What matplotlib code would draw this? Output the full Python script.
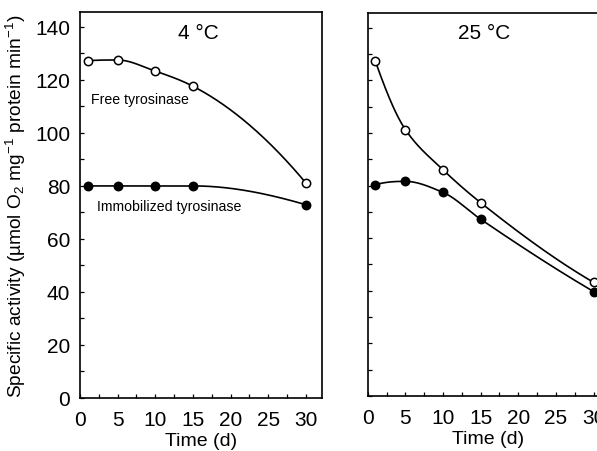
import numpy as np
import matplotlib
matplotlib.use("Agg")
import matplotlib.pyplot as plt
from matplotlib.ticker import MultipleLocator

plt.rcParams['font.family'] = ['Liberation Sans', 'DejaVu Sans']
plt.rcParams['mathtext.fontset'] = 'custom'
plt.rcParams['mathtext.rm'] = 'Liberation Sans'
plt.rcParams['mathtext.it'] = 'Liberation Sans:italic'

# Data
days = [1, 5, 10, 15, 30]
free_4C = [127.2, 127.5, 123.3, 117.6, 81.1]
immob_4C = [80.0, 80.0, 80.0, 80.0, 72.9]
free_25C = [127.4, 101.3, 86.0, 73.5, 43.2]
immob_25C = [80.3, 81.6, 77.4, 67.2, 39.7]
panel_titles = ["4 °C", "25 °C"]
x_ticks = [0, 5, 10, 15, 20, 25, 30]
y_ticks = [0, 20, 40, 60, 80, 100, 120, 140]


def pchip(x, y, xs):
    x = np.asarray(x, float); y = np.asarray(y, float)
    h = np.diff(x); d = np.diff(y) / h
    n = len(x); m = np.zeros(n)
    for k in range(1, n - 1):
        if d[k - 1] * d[k] > 0:
            w1 = 2 * h[k] + h[k - 1]; w2 = h[k] + 2 * h[k - 1]
            m[k] = (w1 + w2) / (w1 / d[k - 1] + w2 / d[k])
        else:
            m[k] = 0.0
    def endslope(h0, h1, d0, d1):
        s = ((2 * h0 + h1) * d0 - h0 * d1) / (h0 + h1)
        if np.sign(s) != np.sign(d0):
            s = 0.0
        elif np.sign(d0) != np.sign(d1) and abs(s) > abs(3 * d0):
            s = 3 * d0
        return s
    m[0] = endslope(h[0], h[1], d[0], d[1])
    m[-1] = endslope(h[-1], h[-2], d[-1], d[-2])
    idx = np.clip(np.searchsorted(x, xs) - 1, 0, n - 2)
    t = (xs - x[idx]) / h[idx]
    h00 = 2 * t**3 - 3 * t**2 + 1; h10 = t**3 - 2 * t**2 + t
    h01 = -2 * t**3 + 3 * t**2; h11 = t**3 - t**2
    return h00 * y[idx] + h10 * h[idx] * m[idx] + h01 * y[idx + 1] + h11 * h[idx] * m[idx + 1]


fig = plt.figure(figsize=(5.97, 4.52), dpi=100)
W = 241.7 / 597
ax1 = fig.add_axes([80 / 597, 1 - 399 / 452, W, (399 - 13) / 452])
ax2 = fig.add_axes([367.7 / 597, 1 - 397 / 452, W, (397 - 14) / 452])

xs = np.linspace(days[0], days[-1], 300)
for ax, free, imm, title, tx in [(ax1, free_4C, immob_4C, panel_titles[0], 0.49),
                                 (ax2, free_25C, immob_25C, panel_titles[1], 0.48)]:
    ax.plot(xs, pchip(days, free, xs), color='black', lw=1.2)
    ax.plot(xs, pchip(days, imm, xs), color='black', lw=1.2)
    ax.plot(days, free, 'o', mfc='white', mec='black', ms=6, mew=1.1)
    ax.plot(days, imm, 'o', mfc='black', mec='black', ms=6, mew=1.1)
    ax.set_xlim(0, 32.1)
    ax.set_ylim(0, 145.6)
    ax.set_xticks(x_ticks)
    ax.set_yticks(y_ticks)
    ax.xaxis.set_minor_locator(MultipleLocator(2.5))
    ax.yaxis.set_minor_locator(MultipleLocator(10))
    ax.tick_params(which='both', direction='in', length=3, width=0.9,
                   top=False, right=False, labelsize=15)
    ax.tick_params(axis='x', pad=9)
    ax.tick_params(axis='y', pad=7)
    for s in ax.spines.values():
        s.set_linewidth(1.2)
    ax.set_xlabel("Time (d)", fontsize=14, labelpad=2)
    ax.text(tx, 0.948, title, transform=ax.transAxes, ha='center', va='center', fontsize=15)

ax2.set_yticklabels([])
ax1.set_ylabel("Specific activity (µmol O$_2$ mg$^{-1}$ protein min$^{-1}$)", fontsize=13.8, labelpad=5)
ax1.text(1.42, 112.8, "Free tyrosinase", fontsize=10.2, ha='left', va='center')
ax1.text(2.2, 72.6, "Immobilized tyrosinase", fontsize=10.2, ha='left', va='center')

fig.savefig("out.png", dpi=100)
